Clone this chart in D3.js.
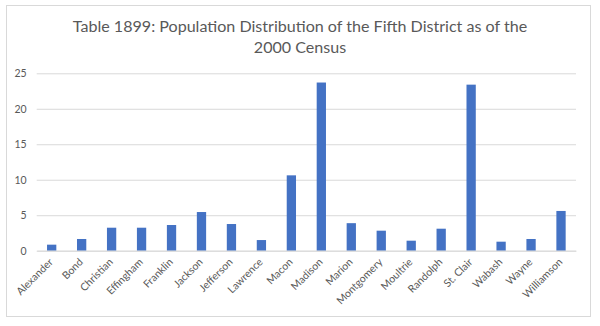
<!DOCTYPE html>
<html><head><meta charset="utf-8">
<script src="https://cdn.jsdelivr.net/npm/d3@7"></script>
<style>html,body{margin:0;padding:0;background:#fff;}</style>
</head><body>
<svg id="c" width="600" height="326"></svg>
<script>
const categories = ["Alexander","Bond","Christian","Effingham","Franklin","Jackson","Jefferson","Lawrence","Macon","Madison","Marion","Montgomery","Moultrie","Randolph","St. Clair","Wabash","Wayne","Williamson"];
const values = [0.85,1.65,3.24,3.24,3.62,5.45,3.76,1.5,10.62,23.7,3.88,2.82,1.41,3.1,23.4,1.27,1.65,5.6];
const yTicks = [0,5,10,15,20,25];
const titleLines = ["Table 1899: Population Distribution of the Fifth District as of the","2000 Census"];

const svg = d3.select("#c");
const font = "Lato, 'Open Sans', sans-serif";
const txt = "#595959";

svg.append("rect").attr("x",6.5).attr("y",5.5).attr("width",584).attr("height",311)
  .attr("fill","#fff").attr("stroke","#d9d9d9").attr("stroke-width",1);

const m = {left:36.7, right:576, top:73.3, bottom:250.7};
const x = d3.scaleBand().domain(categories).range([m.left,m.right]).paddingInner(0.69).paddingOuter(0.345);
const y = d3.scaleLinear().domain([0,25]).range([m.bottom,m.top]);

const yAxis = d3.axisLeft(y).tickValues(yTicks).tickSize(-(m.right-m.left)).tickPadding(10);
const gy = svg.append("g").attr("transform",`translate(${m.left},0)`).call(yAxis);
gy.select(".domain").remove();
gy.selectAll(".tick line").attr("stroke","#d9d9d9").attr("stroke-width",1);
gy.selectAll(".tick text").attr("fill",txt).attr("font-family",font).attr("font-size",10.5);

svg.append("g").selectAll("rect").data(values).join("rect")
  .attr("x",(d,i)=>x(categories[i])).attr("width",x.bandwidth())
  .attr("y",d=>y(d)).attr("height",d=>y(0)-y(d)).attr("fill","#4472c4");

const xAxis = d3.axisBottom(x).tickSize(0).tickPadding(0);
const gx = svg.append("g").attr("transform",`translate(0,${m.bottom})`).call(xAxis);
gx.select(".domain").attr("stroke","#d9d9d9");
gx.selectAll(".tick text").attr("fill",txt).attr("font-family",font).attr("font-size",10.5)
  .attr("text-anchor","end").attr("dy",null).attr("y",0)
  .attr("transform","translate(2,12) rotate(-45)");

const t = svg.append("g");
titleLines.forEach((s,i)=>{
  t.append("text").attr("x",300).attr("y",31.5+i*21.7).attr("text-anchor","middle")
   .attr("font-family",font).attr("font-size",17).attr("fill",txt).text(s);
});
const w0 = t.select("text").node().getComputedTextLength();
const fs = 17*455/w0;
t.selectAll("text").attr("font-size",fs);
</script>
</body></html>
